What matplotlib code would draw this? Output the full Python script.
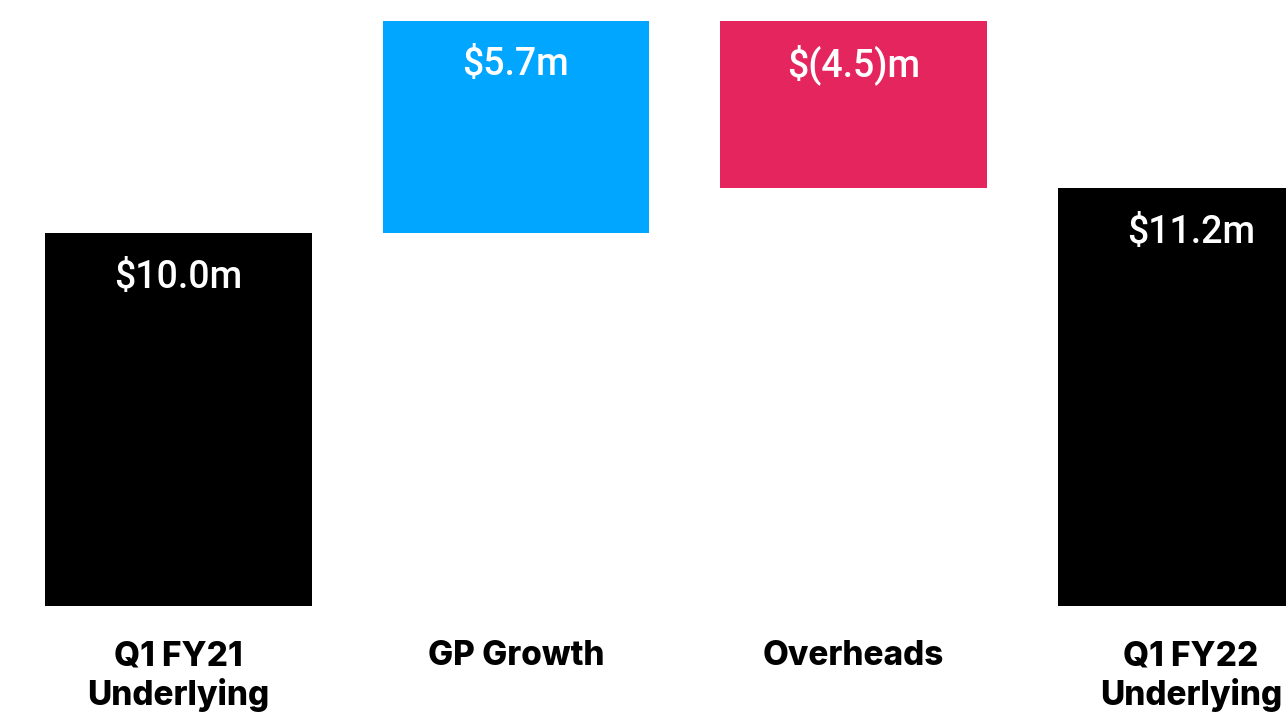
import matplotlib.pyplot as plt
import numpy as np

# waterfall data ($m)
categories = ['Q1 FY21\nUnderlying', 'GP Growth', 'Overheads', 'Q1 FY22\nUnderlying']
changes = [10.0, 5.7, -4.5, 11.2]
is_total = [True, False, False, True]
value_labels = ['$10.0m', '$5.7m', '$(4.5)m', '$11.2m']
colors = ['#000000', '#00A6FF', '#E5265E', '#000000']

# bottoms / heights from running total
bottoms = []
heights = []
running = 0.0
for c, tot in zip(changes, is_total):
    if tot:
        bottoms.append(0.0)
        heights.append(c)
        running = c
    else:
        if c >= 0:
            bottoms.append(running)
        else:
            bottoms.append(running + c)
        heights.append(abs(c))
        running += c

fig = plt.figure(figsize=(12.86, 7.13), dpi=100)
ax = fig.add_axes([0, 0, 1, 1])

x = np.arange(len(categories))
ax.bar(x, heights, bottom=bottoms, width=0.791, color=colors)

# value labels inside the top of each bar
for i in range(len(x)):
    top = bottoms[i] + heights[i]
    ax.text(x[i], top - 1.18, value_labels[i], ha='center', va='center',
            color='white', fontsize=27, fontweight='medium', family='Roboto')

# category labels under the bars
for i, cat in enumerate(categories):
    ax.text(x[i], -0.92, cat, ha='center', va='top', color='black',
            fontsize=24, fontweight='heavy', family='Inter', linespacing=1.2)

ax.set_xlim(-0.5289, 3.2815)
ax.set_ylim(-2.87, 16.25)
ax.axis('off')

fig.savefig('out.png', dpi=100)
